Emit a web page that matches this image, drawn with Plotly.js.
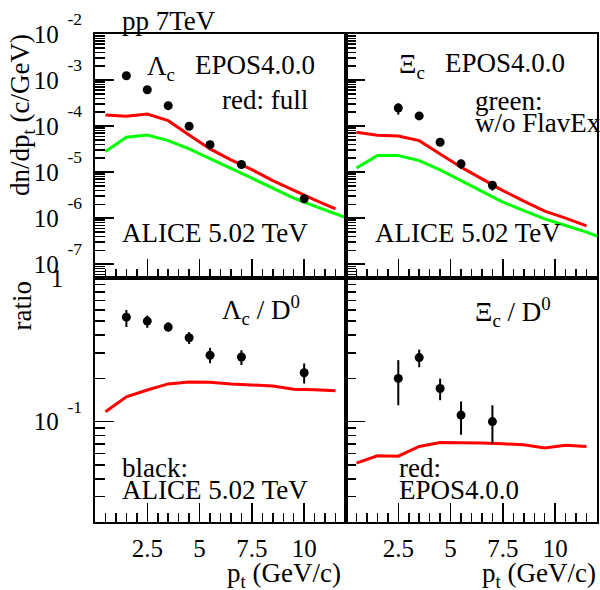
<!DOCTYPE html>
<html>
<head>
<meta charset="utf-8">
<script src="https://cdn.plot.ly/plotly-3.0.1.min.js"></script>
<style>html,body{margin:0;padding:0;background:#fff;}#chart{width:600px;height:590px;}</style>
</head>
<body>
<div id="chart"></div>
<script>
// ---- data ----
const ptModel = [0.5, 1.5, 2.5, 3.5, 4.5, 5.5, 6.5, 7.5, 8.5, 9.5, 10.5, 11.5];
const ptModelExt = [0.5, 1.5, 2.5, 3.5, 4.5, 5.5, 6.5, 7.5, 8.5, 9.5, 10.5, 11.5, 12.5];

const lcFull = [1.74e-4, 1.63e-4, 1.83e-4, 1.31e-4, 6.41e-5, 3.19e-5, 1.84e-5, 1.13e-5, 6.54e-6, 3.97e-6, 2.49e-6, 1.59e-6];
const lcNoFlavEx = [2.79e-5, 5.71e-5, 6.41e-5, 4.82e-5, 3.19e-5, 1.93e-5, 1.17e-5, 7.36e-6, 4.47e-6, 2.71e-6, 1.82e-6, 1.24e-6, 8.5e-7];
const xiFull = [7.33e-5, 6.31e-5, 6.1e-5, 4.82e-5, 2.48e-5, 1.28e-5, 7.11e-6, 3.97e-6, 2.34e-6, 1.42e-6, 1.0e-6, 6.8e-7];
const xiNoFlavEx = [1.23e-5, 2.28e-5, 2.28e-5, 1.78e-5, 1.12e-5, 6.54e-6, 3.66e-6, 2.22e-6, 1.46e-6, 9.66e-7, 6.9e-7, 4.97e-7, 3.3e-7];

const lcPt = [1.5, 2.5, 3.5, 4.5, 5.5, 7, 10];
const lcAlice = [1.24e-3, 6.16e-4, 2.77e-4, 9.9e-5, 3.95e-5, 1.46e-5, 2.62e-6];
const xiPt = [2.5, 3.5, 4.5, 5.5, 7];
const xiAlice = [2.47e-4, 1.66e-4, 4.45e-5, 1.51e-5, 5.19e-6];
const xiAliceErrUp = [6.6e-5, 0, 0, 2.7e-6, 1.15e-6];
const xiAliceErrDn = [7.0e-5, 0, 0, 3.4e-6, 1.22e-6];

const lcRatio = [0.534, 0.501, 0.455, 0.384, 0.29, 0.282, 0.219];
const lcRatioUp = [0.066, 0.047, 0.035, 0.036, 0.036, 0.032, 0.035];
const lcRatioDn = [0.078, 0.051, 0.032, 0.037, 0.035, 0.034, 0.035];
const lcRatioModel = [0.117, 0.149, 0.166, 0.183, 0.189, 0.188, 0.183, 0.179, 0.177, 0.168, 0.167, 0.164];

const xiRatio = [0.2, 0.279, 0.17, 0.111, 0.1];
const xiRatioUp = [0.068, 0.038, 0.029, 0.027, 0.03];
const xiRatioDn = [0.07, 0.04, 0.029, 0.03, 0.0294];
const xiRatioModel = [0.0514, 0.0578, 0.0575, 0.0671, 0.0715, 0.0715, 0.071, 0.07, 0.0689, 0.0654, 0.0685, 0.0671];

const xTickVals = [2.5, 5, 7.5, 10];
const xTickText = ['2.5', '5', '7.5', '10'];
const specTickVals = [1e-7, 1e-6, 1e-5, 1e-4, 1e-3, 1e-2];
const specExponents = ['-7', '-6', '-5', '-4', '-3', '-2'];
const ratioTickVals = [0.1, 1];
const ratioExponents = ['-1', null];

// ---- helpers ----
const RED = '#ff0000', GREEN = '#00ff00';
function powLabel(exp) {
  if (exp === null) return '1\u00a0\u00a0\u00a0';
  return '10<sup>\u00a0\u00a0<span style="baseline-shift:7px">' + exp + '</span></sup>';
}
function minorLog(lo, hi) {
  const v = [];
  for (let e = lo; e <= hi; e++) for (let m = 2; m <= 9; m++) v.push(m * Math.pow(10, e));
  return v;
}
function minorLin() {
  const v = [];
  for (let i = 1; i < 24; i++) { const x = i * 0.5; if (x % 2.5 !== 0) v.push(x); }
  return v;
}
const FONT = 'Liberation Serif';

function xAxis(domain, anchor, labels) {
  return {
    domain: domain, anchor: anchor, range: [0, 12],
    showline: true, mirror: true, linecolor: 'black', linewidth: 2,
    showgrid: false, zeroline: false,
    ticks: 'inside', ticklen: 19, tickwidth: 1.5, tickcolor: 'black',
    tickmode: 'array', tickvals: xTickVals, ticktext: xTickText,
    showticklabels: labels, ticklabelstandoff: 3,
    tickfont: {family: FONT, size: 25, color: 'black'},
    minor: {tickmode: 'array', tickvals: minorLin(), ticks: 'inside', ticklen: 9, tickwidth: 1.5, tickcolor: 'black', showgrid: false}
  };
}
function yAxis(domain, anchor, range, tv, exps, mlo, mhi, labels) {
  return {
    domain: domain, anchor: anchor, type: 'log', range: range,
    showline: true, mirror: true, linecolor: 'black', linewidth: 2,
    showgrid: false, zeroline: false,
    ticks: 'inside', ticklen: 19, tickwidth: 1.5, tickcolor: 'black',
    tickmode: 'array', tickvals: tv, ticktext: exps.map(powLabel),
    showticklabels: labels, ticklabelstandoff: 6,
    tickfont: {family: FONT, size: 25, color: 'black'},
    minor: {tickmode: 'array', tickvals: minorLog(mlo, mhi), ticks: 'inside', ticklen: 10, tickwidth: 1.5, tickcolor: 'black', showgrid: false}
  };
}
function line(x, y, color, xa, ya) {
  return {x: x, y: y, xaxis: xa, yaxis: ya, mode: 'lines', line: {color: color, width: 3}, showlegend: false, hoverinfo: 'skip'};
}
function pts(x, y, up, dn, xa, ya) {
  const t = {x: x, y: y, xaxis: xa, yaxis: ya, mode: 'markers', marker: {color: 'black', size: 9}, showlegend: false};
  if (up) t.error_y = {type: 'data', symmetric: false, array: up, arrayminus: dn, color: 'black', thickness: 2, width: 0};
  return t;
}

const traces = [
  line(ptModel, lcFull, RED, 'x3', 'y3'),
  line(ptModelExt, lcNoFlavEx, GREEN, 'x3', 'y3'),
  pts(lcPt, lcAlice, null, null, 'x3', 'y3'),
  line(ptModel, xiFull, RED, 'x4', 'y4'),
  line(ptModelExt, xiNoFlavEx, GREEN, 'x4', 'y4'),
  pts(xiPt, xiAlice, xiAliceErrUp, xiAliceErrDn, 'x4', 'y4'),
  line(ptModel, lcRatioModel, RED, 'x', 'y'),
  pts(lcPt, lcRatio, lcRatioUp, lcRatioDn, 'x', 'y'),
  line(ptModel, xiRatioModel, RED, 'x2', 'y2'),
  pts(xiPt, xiRatio, xiRatioUp, xiRatioDn, 'x2', 'y2')
];

function ann(text, x, y, xanchor, extra) {
  return Object.assign({text: text, x: x, y: y, xref: 'paper', yref: 'paper', xanchor: xanchor, yanchor: 'middle', showarrow: false,
    font: {family: FONT, size: 27, color: 'black'}}, extra || {});
}

const specRange = [Math.log10(5e-8), -2];
const ratioRange = [Math.log10(0.02), 0];

const layout = {
  width: 600, height: 590,
  margin: {l: 95, r: 3, t: 34, b: 68},
  paper_bgcolor: 'white', plot_bgcolor: 'white',
  font: {family: FONT, size: 25, color: 'black'},
  showlegend: false,
  xaxis: xAxis([0, 0.5], 'y', true),
  yaxis: yAxis([0, 0.5], 'x', ratioRange, ratioTickVals, ratioExponents, -2, -1, true),
  xaxis2: xAxis([0.5, 1], 'y2', true),
  yaxis2: yAxis([0, 0.5], 'x2', ratioRange, ratioTickVals, ratioExponents, -2, -1, false),
  xaxis3: xAxis([0, 0.5], 'y3', false),
  yaxis3: yAxis([0.5, 1], 'x3', specRange, specTickVals, specExponents, -8, -3, true),
  xaxis4: xAxis([0.5, 1], 'y4', false),
  yaxis4: yAxis([0.5, 1], 'x4', specRange, specTickVals, specExponents, -8, -3, false),
  annotations: [
    ann('pp 7TeV', 0.0498, 1.0266, 'left'),
    ann('\u039b<sub>c</sub>', 0.0996, 0.930, 'left'),
    ann('EPOS4.0.0', 0.1952, 0.9365, 'left'),
    ann('red: full', 0.249, 0.8648, 'left'),
    ann('ALICE 5.02 TeV', 0.0498, 0.5922, 'left'),
    ann('\u039e<sub>c</sub>', 0.6016, 0.934, 'left'),
    ann('EPOS4.0.0', 0.6932, 0.9406, 'left'),
    ann('green:', 0.753, 0.862, 'left'),
    ann('w/o FlavEx', 0.753, 0.8176, 'left'),
    ann('ALICE 5.02 TeV', 0.5538, 0.5922, 'left'),
    ann('\u039b<sub>c</sub> / D<sup>0</sup>', 0.249, 0.4344, 'left'),
    ann('black:', 0.0498, 0.1107, 'left'),
    ann('ALICE 5.02 TeV', 0.0498, 0.0656, 'left'),
    ann('\u039e<sub>c</sub> / D<sup>0</sup>', 0.753, 0.4303, 'left'),
    ann('red:', 0.6016, 0.1107, 'left'),
    ann('EPOS4.0.0', 0.6016, 0.0656, 'left'),
    ann('p<sub>t</sub> (GeV/c)', 0.494, -0.1086, 'right'),
    ann('p<sub>t</sub> (GeV/c)', 1.002, -0.1086, 'right'),
    ann('dn/dp<sub>t</sub> (c/GeV)', -0.1454, 1.004, 'center', {textangle: -90, yanchor: 'top'}),
    ann('ratio', -0.1454, 0.496, 'center', {textangle: -90, yanchor: 'top'})
  ]
};

Plotly.newPlot('chart', traces, layout, {staticPlot: true, displayModeBar: false});
</script>
</body>
</html>
